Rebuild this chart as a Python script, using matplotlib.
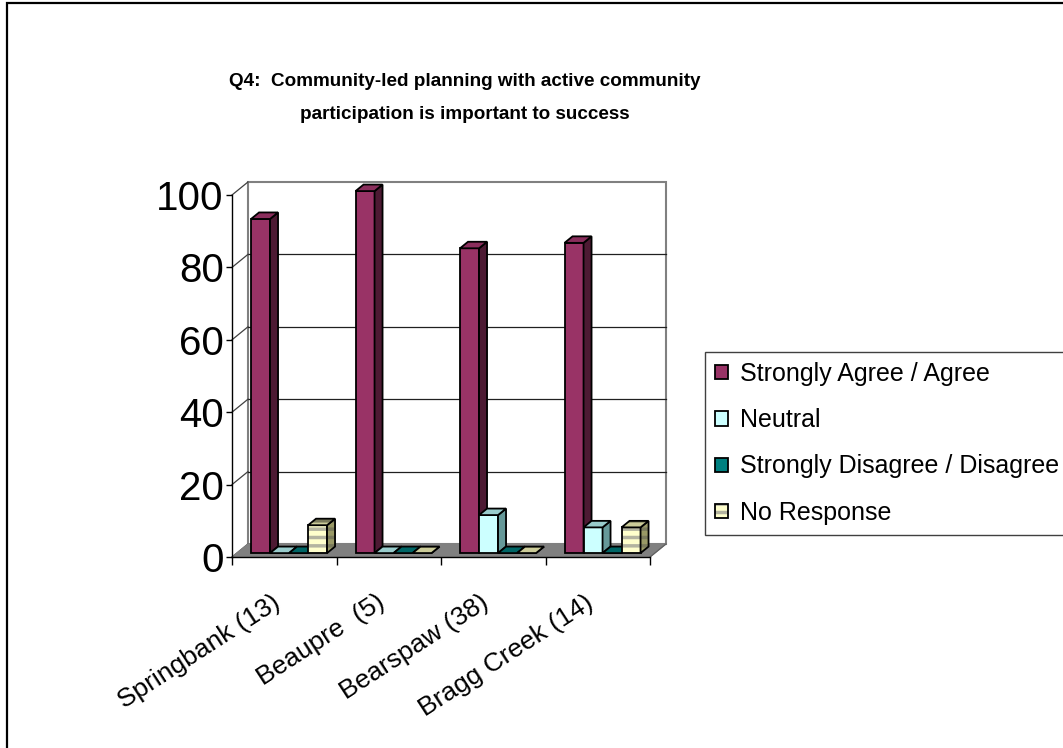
import numpy as np
import matplotlib.pyplot as plt
from matplotlib.patches import Polygon, Rectangle, Patch

plt.rcParams['font.family'] = ['Liberation Sans', 'DejaVu Sans']
plt.rcParams['hatch.linewidth'] = 2.5

# survey results, percent of respondents per community
communities = ['Springbank (13)', 'Beaupre  (5)', 'Bearspaw (38)', 'Bragg Creek (14)']
series_names = ['Strongly Agree / Agree', 'Neutral',
                'Strongly Disagree / Disagree', 'No Response']
agree = [92.3, 100.0, 84.2, 85.7]
neutral = [0.0, 0.0, 10.5, 7.1]
disagree = [0.0, 0.0, 0.0, 0.0]
no_response = [7.7, 0.0, 0.0, 7.1]
values = [agree, neutral, disagree, no_response]

# front, side, top, stripe colour for each series
styles = [
    ('#993366', '#4d1a33', '#8a2e5c', None),
    ('#ccffff', '#669999', '#99cccc', None),
    ('#008080', '#004040', '#006666', None),
    ('#ffffcc', '#999966', '#cccc99', '#b4b4a0'),
]

W, H, DPI = 1063, 748, 100
fig = plt.figure(figsize=(W / DPI, H / DPI), dpi=DPI, facecolor='white')
ax = fig.add_axes([232 / W, (H - 557) / H, 418 / W, 362 / H])
ax.set_facecolor('none')
ax.set_xlim(0, 4)
ax.set_ylim(0, 100)

# pseudo-3d depth, in data units
DX, DY = 0.153, 3.6
F, B = 0.3, 0.8          # front and back depth of the columns
n_series = len(values)
bar_w = 1 / (n_series + 1.5)
margin = 0.75 * bar_w


def poly(pts, **kw):
    ax.add_patch(Polygon(pts, closed=True, clip_on=False, **kw))


# floor and walls
poly([(0, 0), (4, 0), (4 + DX, DY), (DX, DY)], facecolor='#808080', edgecolor='#808080', lw=0.8, zorder=1)
ax.add_patch(Rectangle((DX, DY), 4, 100, facecolor='white', edgecolor='#808080',
                       lw=1.5, clip_on=False, zorder=0.5))
for v in range(20, 100, 20):
    ax.plot([DX, 4 + DX], [v + DY, v + DY], color='#202020', lw=0.9, clip_on=False, zorder=0.8)
for v in range(0, 101, 20):
    ax.plot([0, DX], [v, v + DY], color='#404040', lw=0.9, clip_on=False, zorder=0.8)
ax.plot([4, 4 + DX], [0, DY], color='#606060', lw=0.9, clip_on=False, zorder=1.1)


def column(x0, h, front, side, top, stripe):
    fx, fy = x0 + F * DX, F * DY
    bx, by = x0 + B * DX, B * DY
    faces = [
        [(fx, fy), (fx + bar_w, fy), (fx + bar_w, fy + h), (fx, fy + h)],
        [(fx + bar_w, fy), (bx + bar_w, by), (bx + bar_w, by + h), (fx + bar_w, fy + h)],
        [(fx, fy + h), (fx + bar_w, fy + h), (bx + bar_w, by + h), (bx, by + h)],
    ]
    for pts, col in zip(faces, [front, side, top]):
        if stripe:
            poly(pts, facecolor=col, edgecolor=stripe if col == front else '#7a7a5c',
                 lw=0, hatch='--', zorder=2)
            poly(pts, fill=False, edgecolor='black', lw=1.3, zorder=2)
        else:
            poly(pts, facecolor=col, edgecolor='black', lw=1.3, zorder=2)


for i in range(len(communities)):
    for j, (vals, st) in enumerate(zip(values, styles)):
        column(i + margin + j * bar_w, vals[i], *st)

# axes
for s in ['top', 'right']:
    ax.spines[s].set_visible(False)
for s in ['left', 'bottom']:
    ax.spines[s].set_color('black')
    ax.spines[s].set_linewidth(1.0)
    ax.spines[s].set_zorder(3)
ax.set_yticks(np.arange(0, 101, 20))
ax.tick_params(axis='y', direction='out', length=4, width=1, labelsize=29, pad=2)
ax.set_xticks(np.arange(0, 5))
ax.set_xticklabels([])
ax.tick_params(axis='x', which='major', direction='out', length=6, width=1)
ax.set_xticks(np.arange(len(communities)) + 0.5, minor=True)
ax.set_xticklabels(communities, minor=True, rotation=33, ha='right', va='top',
                   fontsize=19)
ax.tick_params(axis='x', which='minor', length=0, pad=24)

fig.text(465 / W, 1 - 98 / H,
         'Q4:  Community-led planning with active community\nparticipation is important to success',
         ha='center', va='center', fontsize=13.6, fontweight='bold', linespacing=2.25)

# legend
handles = []
for st in styles:
    if st[3]:
        handles.append((Patch(facecolor=st[0], edgecolor=st[3], lw=0, hatch='--'),
                        Patch(fill=False, edgecolor='black', lw=1.3)))
    else:
        handles.append(Patch(facecolor=st[0], edgecolor='black', lw=1.3))
leg = fig.legend(handles, series_names, loc='upper left',
                 bbox_to_anchor=(705 / W, 1 - 352 / H), fontsize=18,
                 handlelength=0.5, handleheight=0.5, handletextpad=0.5,
                 labelspacing=0.89, borderpad=0.4, borderaxespad=0,
                 frameon=True, fancybox=False, framealpha=1)
leg.get_frame().set_edgecolor('#404040')
leg.get_frame().set_linewidth(1.0)

# outer chart border
fig.add_artist(Rectangle((7 / W, -0.1), 1.2, 1.1 - 3 / H, transform=fig.transFigure,
                         fill=False, edgecolor='black', lw=1.6))

fig.savefig('out.png', dpi=DPI)
